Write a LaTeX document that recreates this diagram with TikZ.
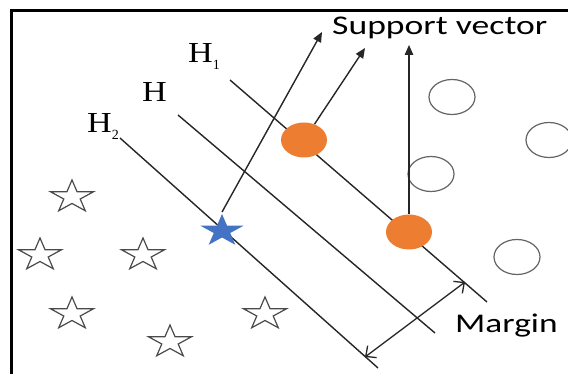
\documentclass[tikz,border=0pt]{standalone}
\usepackage{fontspec}
\setmainfont{Liberation Serif}
\newfontfamily\labelsans{Carlito}
\usetikzlibrary{shapes.geometric,arrows.meta}
\definecolor{svorange}{HTML}{ED7D31}
\definecolor{svblue}{HTML}{4472C4}
\definecolor{outline}{HTML}{4A4A4A}
\tikzset{
  plane/.style={line width=1.4pt, black!85},
  pointer/.style={line width=1.4pt, black!85, -{Triangle[length=10pt,width=8.5pt]}},
  gap/.style={line width=1.3pt, black!85, {Straight Barb[length=8pt,width=15pt]}-{Straight Barb[length=8pt,width=15pt]}},
  hollowstar/.style={star, star points=5, star point ratio=2.618, minimum size=34pt,
    inner sep=0pt, draw=outline, line width=1.2pt, xscale=1.33, transform shape},
  bluestar/.style={hollowstar, draw=none, fill=svblue},
  ring/.style={ellipse, minimum width=46pt, minimum height=35pt, inner sep=0pt,
    draw=outline!85, line width=1.2pt},
  dot/.style={ellipse, minimum width=46pt, minimum height=35pt, inner sep=0pt,
    fill=svorange},
  hlabel/.style={inner sep=0pt, anchor=base west, font=\fontsize{29}{29}\selectfont},
  caption/.style={inner sep=0pt, anchor=base west, font=\labelsans\fontsize{27}{27}\selectfont},
}
\newcommand{\hsub}[1]{\raisebox{-7pt}{\fontsize{14}{14}\selectfont #1}}
\begin{document}
\begin{tikzpicture}[x=1pt,y=-1pt]
  \useasboundingbox[fill=white] (0,0) rectangle (568,374);
  % frame
  \draw[line width=3pt] (11,374) -- (11,11) -- (568,11);

  % hyperplanes
  \coordinate (h1a) at (230,80);  \coordinate (h1b) at (487,302);
  \coordinate (ha)  at (178,115); \coordinate (hb)  at (435,333);
  \coordinate (h2a) at (120,138); \coordinate (h2b) at (378,368);
  \draw[plane] (h1a) -- (h1b);
  \draw[plane] (ha) -- (hb);
  \draw[plane] (h2a) -- (h2b);

  % labels of the hyperplanes
  \node[hlabel] (lh1) at (188,63)  {\scalebox{1.18}[1]{H}\hsub{1}};
  \node[hlabel] (lh)  at (142,102) {\scalebox{1.18}[1]{H}};
  \node[hlabel] (lh2) at (87,133)  {\scalebox{1.18}[1]{H}\hsub{2}};

  % class of stars
  \node[hollowstar] (s1) at (72,197) {};
  \node[hollowstar] (s2) at (40,255) {};
  \node[hollowstar] (s3) at (143,255) {};
  \node[hollowstar] (s4) at (72,314) {};
  \node[hollowstar] (s5) at (170,342) {};
  \node[hollowstar] (s6) at (265,314) {};
  \node[bluestar]   (sv0) at (222,231) {};

  % class of circles
  \node[ring] (c1) at (452,97) {};
  \node[ring] (c2) at (549,140) {};
  \node[ring] (c3) at (431,174) {};
  \node[ring] (c4) at (517,257) {};
  \node[dot]  (sv1) at (304,140) {};
  \node[dot]  (sv2) at (409,232) {};

  % support vector pointers
  \coordinate (t0) at (322,32);
  \coordinate (t1) at (365,48);
  \coordinate (t2) at (409,45);
  \draw[pointer] (sv0.north) -- (t0);
  \draw[pointer] (sv1) -- (t1);
  \draw[pointer] (sv2.north) -- (t2);
  \node[caption] (svtext) at (332,34.3) {\scalebox{1.32}[1]{Support vector}};

  % margin
  \coordinate (m1) at (365,357);
  \coordinate (m2) at (465,282);
  \draw[gap] (m1) -- (m2);
  \node[caption] (mtext) at (455,333) {\scalebox{1.31}[1]{Margin}};
\end{tikzpicture}
\end{document}
